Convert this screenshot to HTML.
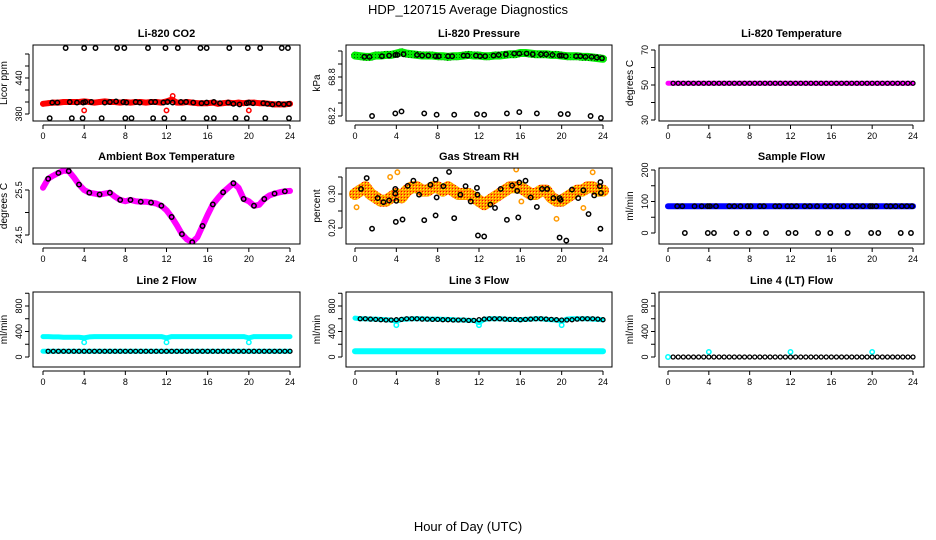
<!DOCTYPE html>
<html><head><meta charset="utf-8">
<style>
html,body{margin:0;padding:0;background:#fff;}
svg{display:block;font-family:"Liberation Sans",sans-serif;}
</style></head>
<body>
<svg id="fig" width="936" height="540" viewBox="0 0 936 540">
<defs>
<pattern id="patGreen" width="3" height="3" patternUnits="userSpaceOnUse"><rect width="3" height="3" fill="#00ee00"/><rect width="1" height="1" fill="#006600"/></pattern>
<pattern id="patRH" width="3" height="3" patternUnits="userSpaceOnUse"><rect width="3" height="3" fill="#ff9900"/><rect width="1" height="1" fill="#ffff00"/><rect x="2" y="2" width="1" height="1" fill="#ff0000"/></pattern>
</defs>
<text x="468" y="14" text-anchor="middle" font-size="13">HDP_120715  Average Diagnostics</text>
<text x="468" y="531" text-anchor="middle" font-size="13">Hour of Day (UTC)</text>
</svg>
<script>
const hours=[0,0.5,1,1.5,2,2.5,3,3.5,4,4.5,5,5.5,6,6.5,7,7.5,8,8.5,9,9.5,10,10.5,11,11.5,12,12.5,13,13.5,14,14.5,15,15.5,16,16.5,17,17.5,18,18.5,19,19.5,20,20.5,21,21.5,22,22.5,23,23.5,24];
const xTicks=[0,4,8,12,16,20,24];
const blackHours=[0.9,1.4,2.6,3.3,3.9,4.1,4.7,6.0,6.5,7.1,7.8,8.1,9.0,9.4,10.5,10.9,11.7,12.1,12.6,13.4,13.9,14.6,15.4,15.9,16.6,17.2,18.0,18.5,19.1,19.8,20.0,20.4,21.4,21.8,22.3,22.9,23.4,23.9];
const outlierHours=[1.65,3.9,4.5,6.7,7.9,9.6,11.8,12.5,14.7,15.9,17.6,19.9,20.6,22.8,23.8];

const co2Red=[397,398,399,399,400,400,400,400,401,400,399,400,401,400,400,399,400,399,400,400,399,400,400,399,401,404,399,399,400,399,398,398,398,399,397,398,399,398,399,398,399,399,398,398,397,396,396,396,397];
const co2Black=[399,399,400,399,399,400,400,399,400,401,400,399,400,399,400,400,399,400,399,400,400,399,398,399,400,398,399,397,396,398,399,398,398,397,396,397,396,397];
const co2HighHours=[2.2,4.0,5.1,7.2,7.9,10.2,11.9,13.1,15.3,15.9,18.1,19.9,21.1,23.2,23.8];
const co2HighVals=[490,490,490,490,490,490,490,490,490,490,490,490,490,490,490];
const co2LowHours=[0.65,2.8,3.85,5.7,8.0,8.6,10.7,11.8,13.65,15.9,16.6,18.7,19.8,21.6,23.9];
const co2LowVals=[373,373,373,373,373,373,373,373,373,373,373,373,373,373,373];
const co2RedOutHours=[4,12,12.6,20];
const co2RedOutVals=[386,386,410,386];
const presGreen=[69.13,69.12,69.11,69.11,69.13,69.13,69.14,69.14,69.16,69.18,69.16,69.15,69.14,69.13,69.13,69.13,69.12,69.12,69.11,69.12,69.12,69.13,69.14,69.13,69.13,69.12,69.12,69.13,69.13,69.14,69.15,69.15,69.17,69.17,69.16,69.15,69.15,69.15,69.14,69.14,69.13,69.12,69.12,69.12,69.11,69.11,69.10,69.09,69.08];
const presBlack=[69.11,69.11,69.12,69.13,69.14,69.14,69.15,69.14,69.13,69.13,69.12,69.12,69.12,69.12,69.13,69.13,69.13,69.12,69.12,69.13,69.14,69.15,69.16,69.16,69.16,69.15,69.15,69.15,69.14,69.13,69.13,69.12,69.12,69.12,69.11,69.11,69.10,69.09];
const presLow=[68.2,68.24,68.27,68.24,68.22,68.22,68.23,68.22,68.24,68.26,68.24,68.23,68.23,68.2,68.17];
const tempMag=[51,51,51,51,51,51,51,51,51,51,51,51,51,51,51,51,51,51,51,51,51,51,51,51,51,51,51,51,51,51,51,51,51,51,51,51,51,51,51,51,51,51,51,51,51,51,51,51,51];
const ambient=[25.55,25.75,25.82,25.88,25.93,25.92,25.78,25.62,25.5,25.44,25.42,25.4,25.42,25.44,25.35,25.28,25.25,25.28,25.25,25.24,25.24,25.22,25.2,25.15,25.05,24.9,24.72,24.52,24.4,24.34,24.45,24.7,24.95,25.18,25.32,25.45,25.55,25.65,25.55,25.3,25.25,25.15,25.17,25.3,25.38,25.42,25.45,25.47,25.48];
const rhBand=[0.30,0.31,0.32,0.30,0.29,0.28,0.28,0.29,0.30,0.29,0.31,0.32,0.32,0.31,0.31,0.32,0.32,0.31,0.32,0.31,0.30,0.30,0.30,0.29,0.28,0.27,0.28,0.29,0.30,0.31,0.32,0.32,0.32,0.31,0.30,0.30,0.31,0.31,0.29,0.28,0.28,0.29,0.30,0.31,0.31,0.32,0.32,0.31,0.31];
const rhBlackHours=[0.58,1.13,1.65,2.2,2.75,3.3,3.9,3.9,4.0,3.95,4.6,5.1,5.65,6.2,6.7,7.3,7.8,7.8,7.9,8.55,9.1,9.6,10.2,10.7,11.2,11.8,11.85,11.9,12.5,13.1,13.55,14.1,14.7,15.2,15.7,15.8,15.9,16.5,17.0,17.6,18.1,18.6,19.2,19.8,19.8,19.9,20.45,21.0,21.6,22.1,22.6,23.15,23.7,23.75,23.8,23.75];
const rhBlackVals=[0.315,0.347,0.198,0.288,0.276,0.281,0.315,0.301,0.28,0.218,0.225,0.324,0.339,0.298,0.223,0.327,0.342,0.237,0.29,0.323,0.365,0.229,0.298,0.323,0.278,0.318,0.298,0.178,0.175,0.269,0.259,0.315,0.224,0.325,0.309,0.231,0.334,0.339,0.29,0.262,0.315,0.315,0.288,0.172,0.288,0.283,0.163,0.313,0.288,0.311,0.241,0.296,0.323,0.335,0.303,0.198];
const rhOutHours=[0.15,3.4,4.1,15.6,16.1,19.5,22.1,23.0];
const rhOutVals=[0.261,0.35,0.364,0.372,0.278,0.227,0.259,0.364];
const sampleBlue=[85,85,85,85,85,85,85,85,85,85,85,85,85,85,85,85,85,85,85,85,85,85,85,85,85,85,85,85,85,85,85,85,85,85,85,85,85,85,85,85,85,85,85,85,85,85,85,85,85];
const sampleBlack=[85,85,85,85,85,85,85,85,85,85,85,85,85,85,85,85,85,85,85,85,85,85,85,85,85,85,85,85,85,85,85,85,85,85,85,85,85,85];
const sampleLow=[0,0,0,0,0,0,0,0,0,0,0,0,0,0,0];
const line2Upper=[320,320,315,315,310,310,310,310,300,315,320,320,320,320,320,320,320,320,320,320,320,320,320,320,300,320,320,320,320,320,320,320,320,320,320,320,320,320,320,320,300,320,320,320,320,320,320,320,320];
const line2Lower=[90,90,90,90,90,90,90,90,90,90,90,90,90,90,90,90,90,90,90,90,90,90,90,90,90,90,90,90,90,90,90,90,90,90,90,90,90,90,90,90,90,90,90,90,90,90,90,90,90];
const line2Dips=[230,230,230];
const dipHours=[4,12,20];
const line3Upper=[610,600,600,595,595,590,585,580,560,590,595,600,600,600,595,595,595,590,590,585,580,580,575,575,540,590,600,600,600,595,590,590,585,590,595,600,600,590,585,580,560,595,600,600,600,600,595,590,585];
const line3Black=[600,600,600,595,590,585,580,580,585,590,600,600,600,595,595,590,590,585,585,580,580,580,575,575,585,595,600,600,600,595,590,590,585,590,595,600,600,595,590,585,580,580,585,595,600,600,600,595,585];
const line3Lower=[90,90,90,90,90,90,90,90,90,90,90,90,90,90,90,90,90,90,90,90,90,90,90,90,90,90,90,90,90,90,90,90,90,90,90,90,90,90,90,90,90,90,90,90,90,90,90,90,90];
const line3Dips=[500,500,500];
const line4Black=[0,0,0,0,0,0,0,0,0,0,0,0,0,0,0,0,0,0,0,0,0,0,0,0,0,0,0,0,0,0,0,0,0,0,0,0,0,0,0,0,0,0,0,0,0,0,0,0,0];
const line4Spikes=[80,80,80];

const NS='http://www.w3.org/2000/svg';
const svg=document.getElementById('fig');
function mk(tag,attrs,parent){const e=document.createElementNS(NS,tag);for(const k in attrs)e.setAttribute(k,attrs[k]);(parent||svg).appendChild(e);return e;}

const cols=[{x0:33,x1:300,h0:43,h24:290},{x0:346,x1:612,h0:355,h24:603},{x0:659,x1:924,h0:668,h24:913}];
const rows=[{y0:45,y1:121},{y0:168,y1:244},{y0:292,y1:367}];

function panel(name,c,r,title,ylab,vA,pA,vB,pB,ticks,labels){
  const C=cols[c],R=rows[r];
  const g=mk('g',{});
  
  
  const xs=h=>C.h0+(h/24)*(C.h24-C.h0);
  const ys=v=>pA+(v-vA)*(pB-pA)/(vB-vA);
  const cp='cp-'+name;
  const clip=mk('clipPath',{id:cp},g);mk('rect',{x:C.x0,y:R.y0,width:C.x1-C.x0,height:R.y1-R.y0},clip);
  const plot=mk('g',{'clip-path':'url(#'+cp+')'},g);
  
  
  const frame=mk('rect',{x:C.x0,y:R.y0,width:C.x1-C.x0,height:R.y1-R.y0,fill:'none',stroke:'#000','stroke-width':1},g);
  
  
  const t=mk('text',{x:(C.x0+C.x1)/2,y:R.y0-8,'text-anchor':'middle','font-size':11,'font-weight':'bold'},g);
  t.textContent=title;
  
  
  const yl=mk('text',{x:0,y:0,'text-anchor':'middle','font-size':10,transform:`translate(${C.x0-26},${(R.y0+R.y1)/2}) rotate(-90)`},g);
  yl.textContent=ylab;
  
  
  mk('line',{x1:xs(0),x2:xs(24),y1:R.y1+4,y2:R.y1+4,stroke:'#000'},g);
  xTicks.forEach(h=>{
    mk('line',{x1:xs(h),x2:xs(h),y1:R.y1+4,y2:R.y1+8,stroke:'#000'},g);
    const tl=mk('text',{x:xs(h),y:R.y1+18,'text-anchor':'middle','font-size':9},g);
    tl.textContent=h;
    
    
  });
  mk('line',{x1:C.x0-4,x2:C.x0-4,y1:ys(ticks[0]),y2:ys(ticks[ticks.length-1]),stroke:'#000'},g);
  ticks.forEach((v,i)=>{
    mk('line',{x1:C.x0-8,x2:C.x0-4,y1:ys(v),y2:ys(v),stroke:'#000'},g);
    if(labels[i]){
      const tl=mk('text',{x:0,y:0,'text-anchor':'middle','font-size':9,transform:`translate(${C.x0-11},${ys(v)}) rotate(-90)`},g);
      tl.textContent=labels[i];
      
      
    }
  });
  return {plot,xs,ys};
}
function band(P,hs,vs,stroke,w,nm){
  const pl=mk('polyline',{points:hs.map((h,i)=>P.xs(h)+','+P.ys(vs[i])).join(' '),fill:'none',stroke:stroke,'stroke-width':w,'stroke-linejoin':'round','stroke-linecap':'round'},P.plot);
  
  
}
function pts(P,hs,vs,color,nm,r,sw){
  hs.forEach((h,i)=>{
    const c=mk('circle',{cx:P.xs(h),cy:P.ys(vs[i]),r:r||2.2,fill:'none',stroke:color,'stroke-width':sw||1.5},P.plot);
    
    
  });
}

let P=panel('co2',0,0,'Li-820 CO2','Licor ppm',380,114,440,78,[380,400,420,440,460,480],['380','','','440','','']);
band(P,hours,co2Red,'#ff0000',6,'co2-series-band');
pts(P,hours,co2Red,'#ff0000','co2-point');
pts(P,co2RedOutHours,co2RedOutVals,'#ff0000','co2-outlier');
pts(P,blackHours,co2Black,'#000','co2-mean-point');
pts(P,co2HighHours,co2HighVals,'#000','co2-high-point');
pts(P,co2LowHours,co2LowVals,'#000','co2-low-point');

P=panel('pressure',1,0,'Li-820 Pressure','kPa',68.2,116,68.8,77,[68.2,68.4,68.6,68.8,69.0,69.2],['68.2','','','68.8','','']);
band(P,hours,presGreen,'url(#patGreen)',8,'pressure-series-band');
pts(P,blackHours,presBlack,'#000','pressure-mean-point');
pts(P,outlierHours,presLow,'#000','pressure-low-point');

P=panel('temperature',2,0,'Li-820 Temperature','degrees C',30,120,70,50,[30,40,50,60,70],['30','','50','','70']);
band(P,hours,tempMag,'#ff00ff',5,'temperature-series-band');
pts(P,hours.slice(1),tempMag.slice(1),'#000','temperature-mean-point',2,1.3);

P=panel('ambient',0,1,'Ambient Box Temperature','degrees C',24.5,235,25.5,190,[24.5,25,25.5],['24.5','','25.5']);
band(P,hours,ambient,'#ff00ff',6,'ambient-series-band');
pts(P,hours.filter((h,i)=>i%2==1),ambient.filter((v,i)=>i%2==1),'#000','ambient-mean-point');

P=panel('rh',1,1,'Gas Stream RH','percent',0.20,228,0.30,194,[0.20,0.25,0.30,0.35],['0.20','','0.30','']);
band(P,hours,rhBand,'url(#patRH)',12,'rh-series-band');
pts(P,rhOutHours,rhOutVals,'#ff9900','rh-outlier');
pts(P,rhBlackHours,rhBlackVals,'#000','rh-mean-point');

P=panel('sample-flow',2,1,'Sample Flow','ml/min',0,233,200,170,[0,50,100,150,200],['0','','100','','200']);
band(P,hours,sampleBlue,'#0000ff',6,'sample-flow-band');
pts(P,blackHours,sampleBlack,'#000','sample-flow-mean-point');
pts(P,outlierHours,sampleLow,'#000','sample-flow-low-point');

const flowTicks=[0,200,400,600,800,1000],flowLabels=['0','','400','','800',''];
P=panel('line2',0,2,'Line 2 Flow','ml/min',0,357,800,306,flowTicks,flowLabels);
band(P,hours,line2Upper,'#00ffff',5,'line2-upper-band');
band(P,hours,line2Lower,'#00ffff',5,'line2-lower-band');
pts(P,dipHours,line2Dips,'#00ffff','line2-dip');
pts(P,hours.slice(1),line2Lower.slice(1),'#000','line2-mean-point',2,1.3);

P=panel('line3',1,2,'Line 3 Flow','ml/min',0,357,800,306,flowTicks,flowLabels);
band(P,hours,line3Upper,'#00ffff',5,'line3-upper-band');
band(P,hours,line3Lower,'#00ffff',6,'line3-lower-band');
pts(P,dipHours,line3Dips,'#00ffff','line3-dip');
pts(P,hours.slice(1),line3Black.slice(1),'#000','line3-mean-point',2,1.3);

P=panel('line4',2,2,'Line 4 (LT) Flow','ml/min',0,357,800,306,flowTicks,flowLabels);
pts(P,[0],[0],'#00ffff','line4-start');
pts(P,dipHours,line4Spikes,'#00ffff','line4-spike');
pts(P,hours.slice(1),line4Black.slice(1),'#000','line4-mean-point',2,1.3);
</script>
</body></html>
